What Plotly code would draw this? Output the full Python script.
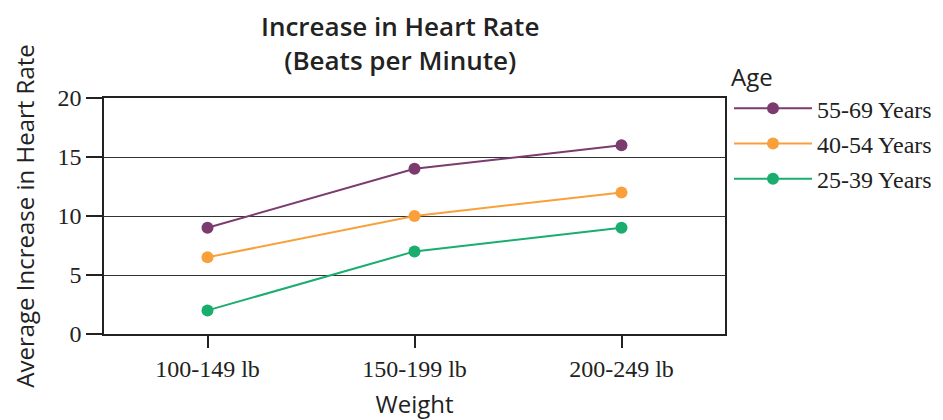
import plotly.graph_objects as go

categories = ["100-149 lb", "150-199 lb", "200-249 lb"]
series_names = ["55-69 Years", "40-54 Years", "25-39 Years"]
values_55_69 = [9, 14, 16]
values_40_54 = [6.5, 10, 12]
values_25_39 = [2, 7, 9]
colors = ["#7B3B6E", "#F9A03A", "#1AAE6E"]
y_ticks = [0, 5, 10, 15, 20]

# page body has an 8px default margin, so the figure is 8px smaller each way
W, H = 935, 412
L, R, T, B = 96, 218, 90, 86
PH = H - T - B
PW = W - L - R

fig = go.Figure()
for name, vals, c in zip(series_names, [values_55_69, values_40_54, values_25_39], colors):
    fig.add_trace(go.Scatter(x=categories, y=vals, name=name, mode="lines+markers",
                             legendgroup=name,
                             line=dict(color=c, width=2), marker=dict(color=c, size=12)))

fig.add_annotation(text="Increase in Heart Rate<br>(Beats per Minute)", xref="paper", yref="paper",
                   x=(392 - L) / PW, y=(H - B + 2) / PH, xanchor="center", yanchor="top",
                   showarrow=False, align="center",
                   font=dict(family="Open Sans", size=26, color="#222", weight=600))

fig.update_layout(
    width=W, height=H,
    margin=dict(l=L, r=R, t=T, b=B),
    paper_bgcolor="white", plot_bgcolor="white",
    xaxis=dict(range=[-0.5, 2.5], showgrid=False, showline=True, linecolor="#222", linewidth=1.5,
               mirror=True, ticks="outside", ticklen=12, tickcolor="#222", tickwidth=1.5,
               automargin=False,
               tickfont=dict(family="Liberation Serif", size=24, color="#222"),
               title=dict(text="Weight", font=dict(family="Open Sans", size=24, color="#222"), standoff=26)),
    yaxis=dict(range=[0, 20], tickvals=y_ticks, showgrid=True, gridcolor="#333", gridwidth=1,
               showline=True, linecolor="#222", linewidth=1.5, mirror=True,
               ticks="outside", ticklen=16, tickcolor="#222", tickwidth=1.5,
               ticksuffix="\u00a0\u00a0",
               automargin=False,
               tickfont=dict(family="Liberation Serif", size=24, color="#222"),
               zeroline=False,
               title=dict(text="Average Increase in Heart Rate", font=dict(family="Open Sans", size=24, color="#222"), standoff=20)),
    legend=dict(xref="container", yref="container", x=721 / W, xanchor="left",
                y=1 - 47 / H, yanchor="top", itemwidth=78, tracegroupgap=1,
                title=dict(text="Age", font=dict(family="Open Sans", size=24, color="#222")),
                font=dict(family="Liberation Serif", size=24, color="#222"),
                ),
    showlegend=True,
)

fig.write_html("out.html")
